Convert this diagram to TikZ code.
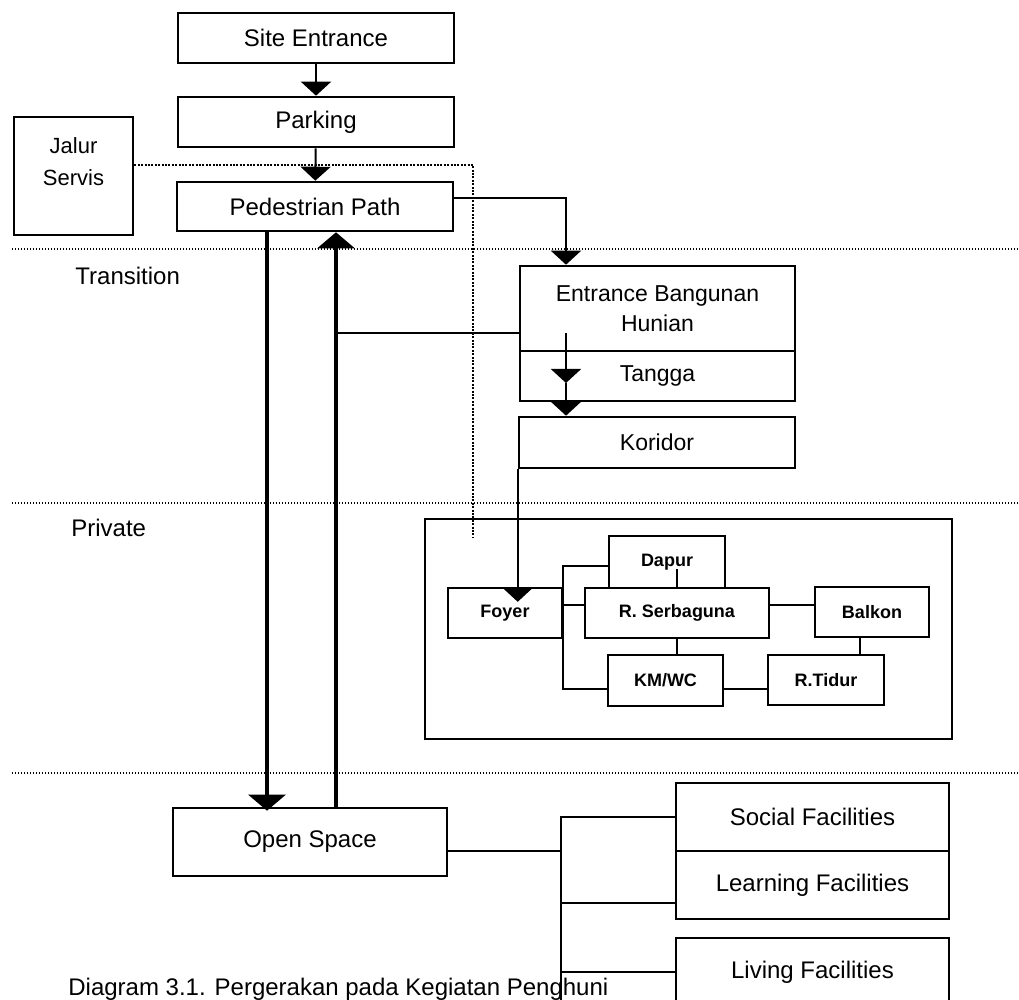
\documentclass[tikz,border=0pt]{standalone}
\usepackage{fontspec}
\setmainfont{Liberation Sans}
\usetikzlibrary{arrows.meta}

\begin{document}
\begin{tikzpicture}[x=.5pt,y=-.5pt,
  box/.style={draw,line width=1.3pt,inner sep=0pt,minimum width=138pt,minimum height=25pt,font=\fontsize{12}{14}\selectfont},
  room/.style={box,line width=1.2pt,minimum width=57.5pt,font=\fontsize{9}{11}\selectfont\bfseries},
  zonelbl/.style={anchor=west,inner sep=0pt,font=\fontsize{12}{14}\selectfont},
  link/.style={line width=1pt},
  arr/.style={link,-{Triangle[width=15pt,length=7pt]}},
  bigarr/.style={line width=1.6pt,-{Triangle[width=18.5pt,length=8pt]}},
  zone/.style={line width=.6pt,dash pattern=on .6pt off .9pt},
  service/.style={line width=1pt,dash pattern=on 1pt off .7pt}]
  \useasboundingbox (0,0) rectangle (1019,1000);

  % zones
  \foreach \y in {249,503,773}
    \draw[zone] (12,\y) -- (1019,\y);
  \node[zonelbl] (trans) at (75,276) {Transition};
  \node[zonelbl] (priv) at (71,528) {Private};

  % site
  \node[box] (site) at (316,38) {Site Entrance};
  \node[box] (park) at (316,122) {Parking};
  \node[box,minimum height=24.5pt] (path) at (315,206.5) {Pedestrian Path};
  \node[box,minimum width=59.5pt,minimum height=59pt] (servis) at (73.5,176) {};
  \node[anchor=north,inner sep=0pt,align=center,font=\fontsize{11}{16}\selectfont] (servislbl) at ([yshift=-10.5pt]servis.north) {Jalur\\Servis};

  % building
  \node[box,minimum width=137.5pt,minimum height=42.5pt,align=center,font=\fontsize{11.5}{15}\selectfont] (ent) at (657.5,308.5) {Entrance Bangunan\\Hunian};
  \node[box,minimum width=137.5pt,font=\fontsize{11.5}{14}\selectfont] (tangga) at (657.5,376) {Tangga};
  \node[box,minimum height=25.5pt,font=\fontsize{11.5}{14}\selectfont] (kor) at (657,442.5) {Koridor};

  % unit
  \node[box,minimum width=263.5pt,minimum height=110pt] (house) at (688.5,629) {};
  \node[room,minimum width=58pt,minimum height=26pt] (dapur) at (667,562) {Dapur};
  \node[room,minimum width=57pt] (foyer) at (505,613) {Foyer};
  \node[room,minimum width=92pt] (serba) at (677,613) {R. Serbaguna};
  \node[room,minimum width=57pt] (balkon) at (872,612) {Balkon};
  \node[room,minimum height=25.5pt] (kmwc) at (665.5,680.5) {KM/WC};
  \node[room,minimum width=58pt] (tidur) at (826,680) {R.Tidur};

  % outdoor
  \node[box,minimum width=137pt,minimum height=34pt] (open) at (310,842) {Open Space};
  \node[box,minimum width=136.5pt,minimum height=34pt] (social) at (812.5,817) {Social Facilities};
  \node[box,minimum width=136.5pt,minimum height=34pt] (learning) at (812.5,885) {Learning Facilities};
  \node[box,minimum width=136.5pt,minimum height=34pt] (living) at (812.5,972) {Living Facilities};

  \node[anchor=base west,inner sep=0pt,font=\fontsize{12}{14}\selectfont] (cap) at (68,995) {Diagram 3.1. Pergerakan pada Kegiatan Penghuni};

  % helper points
  \coordinate (drop) at (566,0);
  \coordinate (tg) at (566,333);
  \coordinate (tgmid) at (566,383);
  \coordinate (dn) at (267,0);
  \coordinate (up) at (336,0);
  \coordinate (jn) at (336,333);
  \coordinate (svend) at (473,537);
  \coordinate (fork) at (561,0);
  \coordinate (forkend) at (561,1000);

  % circulation
  \draw[arr] (site) -- (park);
  \draw[arr] (park) -- (path);
  \draw[service] ([yshift=5.5pt]servis.east) -| (svend);
  \draw[arr] ([yshift=4pt]path.east) -| (ent.north -| drop);
  \draw[arr] (tg) -- (tgmid);
  \draw[arr] (tgmid) -- (kor.north -| tgmid);
  \draw[arr,shorten >=-7.5pt] (kor.south west) -- (kor.south west |- foyer.north);
  \draw[bigarr,shorten >=-2pt] (path.south -| dn) -- (open.north -| dn);
  \draw[bigarr] (open.north -| up) -- (path.south -| up);
  \draw[link] (jn) -- (jn -| ent.west);

  % rooms
  \coordinate (dpin) at ([yshift=-2pt]dapur.west);
  \coordinate (kmin) at ([yshift=-4pt]kmwc.west);
  \coordinate (sbin) at ([yshift=4pt]serba.west);
  \coordinate (sbout) at ([yshift=4pt]serba.east);
  \coordinate (kmout) at ([yshift=-4pt]kmwc.east);
  \coordinate (bktop) at ([xshift=-6pt]balkon.south);
  \draw[link] (dpin) -| (kmin -| foyer.east) -- (kmin);
  \draw[link] (sbin) -- (sbin -| foyer.east);
  \draw[link] (serba.north) -- ++(0,-18);
  \draw[link] (serba.south) -- (serba.south |- kmwc.north);
  \draw[link] (sbout) -- (sbout -| balkon.west);
  \draw[link] (kmout) -- (kmout -| tidur.west);
  \draw[link] (bktop) -- (bktop |- tidur.north);

  % facilities
  \coordinate (osout) at ([yshift=-4.5pt]open.east);
  \coordinate (lnin) at ([yshift=-9pt]learning.west);
  \draw[link] (osout) -- (osout -| fork);
  \draw[link] (social.west) -| (forkend);
  \draw[link] (lnin -| fork) -- (lnin);
  \draw[link] (living.west -| fork) -- (living.west);
\end{tikzpicture}
\end{document}
